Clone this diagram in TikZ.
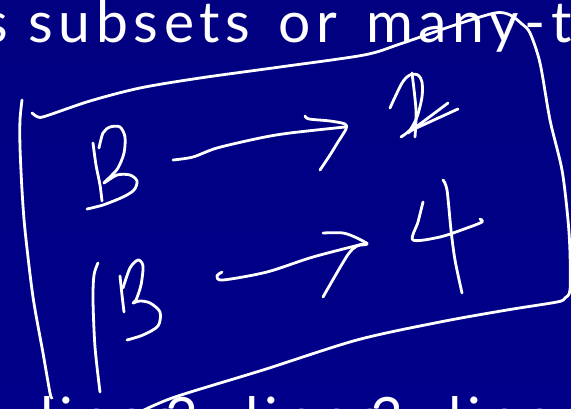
\documentclass[tikz,border=0pt]{standalone}
\usepackage{fontspec}
\setmainfont{Lato}[LetterSpace=10, WordSpace=1.4]
\definecolor{slidenavy}{RGB}{0,0,128}
\definecolor{slidenavylo}{RGB}{0,0,138}

\begin{document}
\begin{tikzpicture}[x=1pt, y=-1pt,
  ink/.style={draw=white, line width=2.8pt, line cap=round, line join=round},
  slidetext/.style={text=white, inner sep=0pt, font=\fontsize{57}{57}\selectfont}]
  \useasboundingbox (0,0) rectangle (571,409);
  \begin{scope}
  \clip (0,0) rectangle (571,409);
  \shade[top color=slidenavy, bottom color=slidenavylo] (0,0) rectangle (571,409);
  % slide text
  \node[slidetext, anchor=base west] (title) at (28,43) {\llap{s\hspace{20pt}}subsets or many-to-one};
  \foreach \x/\t [count=\k] in {40/lines, 165/2, 245/lines, 370/3, 448/lines}
    \node[slidetext, anchor=base west] (foot\k) at (\x,438) {\t};
  % box
  \draw[ink] plot[smooth] coordinates {(32,113) (38,117) (46,116) (90,101) (140,88) (200,78) (280,67)
    (364,55) (400,44) (455,25) (495,13) (510,15) (522,24) (530,33) (540,63) (550,120) (562,170)
    (568,220) (570,253) (570,290) (565,298) (557,302) (507,310) (440,322) (357,340) (263,370)
    (175,397) (140,412)};
  \draw[ink] plot[smooth] coordinates {(22,100) (20,120) (20,147) (22,190) (25,230) (33,297) (43,353) (50,393) (52,398)};
  % first row
  \draw[ink] plot[smooth] coordinates {(93,143) (96,165) (100,185) (102,201)};
  \draw[ink] plot[smooth] coordinates {(99,148) (103,133) (110,127) (120,127) (125,137) (124,153)
    (118,168) (110,177) (104,183) (117,175) (130,175) (137,181) (134,190) (123,197) (103,205) (87,209)};
  \draw[ink] plot[smooth] coordinates {(173,160) (193,157) (217,148) (260,138) (290,133) (345,127)};
  \draw[ink] plot[smooth] coordinates {(305,116) (309,119) (330,121) (345,124) (346,129) (338,142) (330,155) (320,170)};
  \draw[ink] plot[smooth] coordinates {(390,108) (402,83) (410,75) (418,75) (422,82) (422,97) (417,117) (410,130) (401,137)};
  \draw[ink] plot[smooth] coordinates {(412,73) (416,110) (415,137)};
  \draw[ink] (408,133) -- (448,103);
  \draw[ink] (412,130) -- (458,109);
  % second row
  \draw[ink] plot[smooth] coordinates {(98,263) (94,275) (93,300) (95,347) (100,392)};
  \draw[ink] plot[smooth] coordinates {(120,276) (122,295) (124,312)};
  \draw[ink] plot[smooth] coordinates {(123,288) (130,268) (138,260) (143,266) (141,285) (136,300)
    (133,303) (140,301) (150,303) (160,312) (158,326) (143,335) (127,340)};
  \draw[ink] plot[smooth] coordinates {(222,272) (217,276) (223,280) (267,272) (313,257) (367,243)};
  \draw[ink] plot[smooth] coordinates {(323,233) (343,233) (357,238) (367,244) (357,246) (347,256) (323,297)};
  \draw[ink] plot[smooth] coordinates {(423,202) (418,222) (413,240) (440,237) (467,228) (482,222) (480,219)};
  \draw[ink] plot[smooth] coordinates {(443,180) (447,190) (451,230) (455,260) (462,293)};
  \end{scope}
\end{tikzpicture}
\end{document}
